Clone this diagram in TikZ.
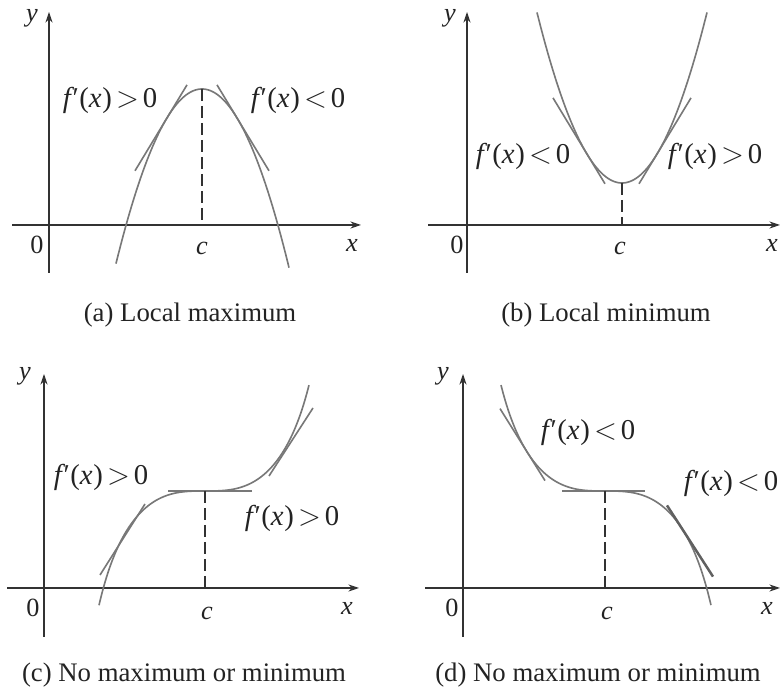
\documentclass[tikz,border=0pt]{standalone}
\usepackage{fontspec}
\setmainfont{Liberation Serif}
\usetikzlibrary{arrows.meta}
\definecolor{curvecol}{RGB}{120,120,120}
\definecolor{axcol}{RGB}{50,50,50}
\definecolor{txtcol}{RGB}{35,35,35}
\tikzset{
  axis/.style={draw=axcol, line width=0.5pt, -{Stealth[length=4.2pt,width=2.8pt]}},
  curve/.style={draw=curvecol, line width=0.65pt},
  tang/.style={draw=curvecol, line width=0.65pt},
  tangdark/.style={draw=curvecol!80!black, line width=1pt},
  dashline/.style={draw=axcol, line width=0.5pt, dash pattern=on 5pt off 1.8pt},
  lbl/.style={font=\fontsize{11.5}{13}\selectfont, text=txtcol, inner sep=0pt},
  captxt/.style={font=\fontsize{10.7}{12}\selectfont, text=txtcol, inner sep=0pt},
  axl/.style={font=\fontsize{10.5}{12}\selectfont\itshape, text=txtcol, inner sep=0pt},
  zero/.style={font=\fontsize{10.5}{12}\selectfont, text=txtcol, inner sep=0pt}
}
\newcommand{\fpart}{\textit{f}\kern-0.6pt′\kern0.2pt(\textit{x}\kern0.3pt)}
\newcommand{\fpos}{\fpart\kern1.6pt$>$\kern1.6pt0}
\newcommand{\fneg}{\fpart\kern1.6pt$<$\kern1.6pt0}
\begin{document}
\begin{tikzpicture}[x=0.4pt,y=-0.4pt]
\useasboundingbox (0,0) rectangle (781,697);

% ---------------- (a) Local maximum ----------------
\coordinate (a-yb) at (49,273); \coordinate (a-yt) at (49,12);
\coordinate (a-xl) at (12,225); \coordinate (a-xr) at (361,225);
\draw[axis] (a-yb) -- (a-yt);
\draw[axis] (a-xl) -- (a-xr);
\draw[curve] plot[domain=116:289, samples=80, smooth] (\x, {89+0.0236*(\x-202)*(\x-202)});
\coordinate (a-t1s) at (135,170.8); \coordinate (a-t1e) at (187,84.9);
\coordinate (a-t2s) at (217,84.9); \coordinate (a-t2e) at (269,170.8);
\draw[tang] (a-t1s) -- (a-t1e);
\draw[tang] (a-t2s) -- (a-t2e);
\coordinate (a-top) at (202,89); \coordinate (a-c) at (202,225);
\draw[dashline] (a-top) -- (a-c);
\node[axl] (a-y) at (32,18) {y};
\node[zero] (a-0) at (37,245) {0};
\node[axl] (a-cl) at (202,248) {c};
\node[axl] (a-x) at (352,245) {x};
\node[lbl] (a-l1) at (110,100) {\fpos};
\node[lbl] (a-l2) at (298,100) {\fneg};
\node[captxt] (a-cap) at (190,315) {(a) Local maximum};

% ---------------- (b) Local minimum ----------------
\coordinate (b-yb) at (467,273); \coordinate (b-yt) at (467,12);
\coordinate (b-xl) at (428,225); \coordinate (b-xr) at (780,225);
\draw[axis] (b-yb) -- (b-yt);
\draw[axis] (b-xl) -- (b-xr);
\draw[curve] plot[domain=537:707, samples=80, smooth] (\x, {183-0.0236*(\x-622)*(\x-622)});
\coordinate (b-t1s) at (553,97.9); \coordinate (b-t1e) at (605,183.8);
\coordinate (b-t2s) at (639,183.8); \coordinate (b-t2e) at (691,97.9);
\draw[tang] (b-t1s) -- (b-t1e);
\draw[tang] (b-t2s) -- (b-t2e);
\coordinate (b-bot) at (622,183); \coordinate (b-c) at (622,225);
\draw[dashline] (b-bot) -- (b-c);
\node[axl] (b-y) at (450,18) {y};
\node[zero] (b-0) at (457,245) {0};
\node[axl] (b-cl) at (620,248) {c};
\node[axl] (b-x) at (772,245) {x};
\node[lbl] (b-l1) at (523,156) {\fneg};
\node[lbl] (b-l2) at (715,156) {\fpos};
\node[captxt] (b-cap) at (606,315) {(b) Local minimum};

% ---------------- (c) No maximum or minimum ----------------
\coordinate (c-yb) at (44,637); \coordinate (c-yt) at (44,374);
\coordinate (c-xl) at (7,588); \coordinate (c-xr) at (359,588);
\draw[axis] (c-yb) -- (c-yt);
\draw[axis] (c-xl) -- (c-xr);
\draw[curve] plot[domain=-1.06:1.04, samples=100, smooth]
  ({205+100*\x}, {491-(80*\x*\x*\x+11.2*(\x*\x*\x)*(\x*\x*\x)*(\x*\x*\x))});
\coordinate (c-t1s) at (100,575); \coordinate (c-t1e) at (145,504);
\coordinate (c-t2s) at (252,491); \coordinate (c-t2e) at (168,491);
\coordinate (c-t3s) at (269,476); \coordinate (c-t3e) at (313,408);
\draw[tang] (c-t1s) -- (c-t1e);
\draw[tang] (c-t2s) -- (c-t2e);
\draw[tang] (c-t3s) -- (c-t3e);
\coordinate (c-inf) at (205,491); \coordinate (c-c) at (205,588);
\draw[dashline] (c-inf) -- (c-c);
\node[axl] (c-y) at (25,376) {y};
\node[zero] (c-0) at (33,608) {0};
\node[axl] (c-cl) at (207,613) {c};
\node[axl] (c-x) at (347,608) {x};
\node[lbl] (c-l1) at (101,477) {\fpos};
\node[lbl] (c-l2) at (292,518) {\fpos};
\node[captxt] (c-cap) at (184,675) {(c) No maximum or minimum};

% ---------------- (d) No maximum or minimum ----------------
\coordinate (d-yb) at (463,637); \coordinate (d-yt) at (463,374);
\coordinate (d-xl) at (425,588); \coordinate (d-xr) at (780,588);
\draw[axis] (d-yb) -- (d-yt);
\draw[axis] (d-xl) -- (d-xr);
\draw[curve] plot[domain=-1.04:1.06, samples=100, smooth]
  ({605+100*\x}, {491+(80*\x*\x*\x+11.2*(\x*\x*\x)*(\x*\x*\x)*(\x*\x*\x))});
\coordinate (d-t1s) at (500,408.6); \coordinate (d-t1e) at (545,480.6);
\coordinate (d-t2s) at (562,491); \coordinate (d-t2e) at (645,491);
\coordinate (d-t3s) at (667,505.4); \coordinate (d-t3e) at (713,576.6);
\draw[tang] (d-t1s) -- (d-t1e);
\draw[tang] (d-t2s) -- (d-t2e);
\draw[tangdark] (d-t3s) -- (d-t3e);
\coordinate (d-inf) at (605,491); \coordinate (d-c) at (605,588);
\draw[dashline] (d-inf) -- (d-c);
\node[axl] (d-y) at (443,376) {y};
\node[zero] (d-0) at (452,608) {0};
\node[axl] (d-cl) at (607,613) {c};
\node[axl] (d-x) at (767,608) {x};
\node[lbl] (d-l1) at (588,432) {\fneg};
\node[lbl] (d-l2) at (731,483) {\fneg};
\node[captxt] (d-cap) at (598,675) {(d) No maximum or minimum};
\end{tikzpicture}
\end{document}
